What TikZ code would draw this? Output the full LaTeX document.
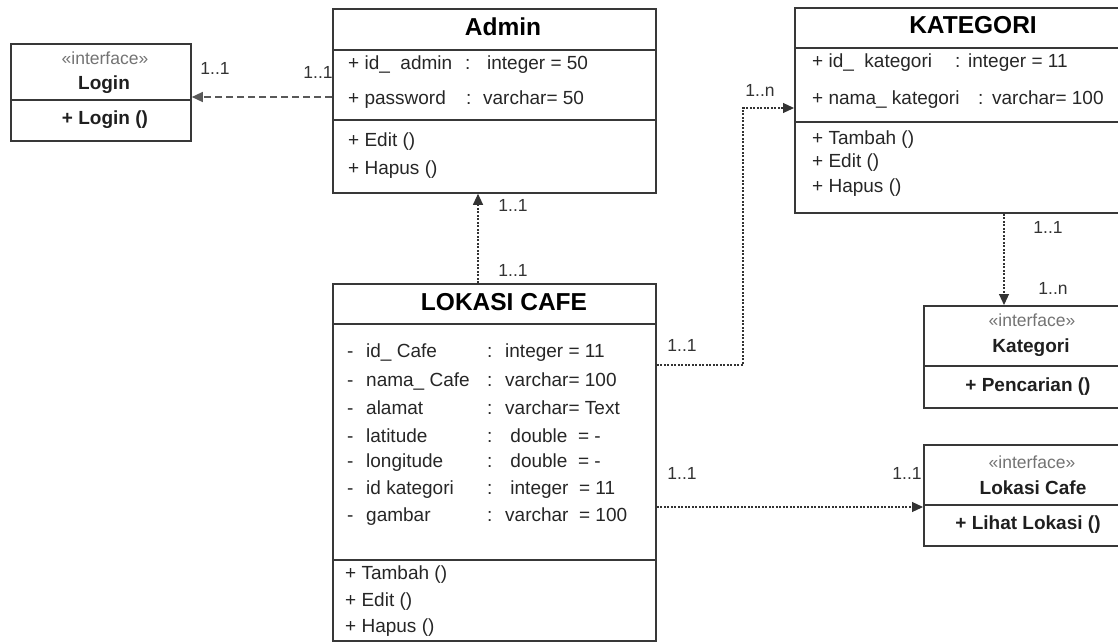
\documentclass[tikz,border=0pt]{standalone}
\usepackage{fontspec}
\setmainfont{Liberation Sans}
\usetikzlibrary{arrows.meta, positioning, calc}

\newcommand{\attrline}[4]{\makebox[#1][l]{#2}\makebox[#3][l]{:}#4}
\newcommand{\cafeattr}[2]{\attrline{140pt}{\makebox[19pt][l]{-}#1}{18pt}{#2}}

\begin{document}
\begin{tikzpicture}[x=1pt, y=-1pt,
  cls/.style={rectangle, draw=black!78, line width=1.8pt, anchor=north west, inner sep=0pt},
  sep/.style={draw=black!78, line width=1.8pt},
  title/.style={font=\fontsize{24.5}{26}\selectfont\bfseries, inner sep=0pt},
  attr/.style={anchor=west, font=\fontsize{19}{21}\selectfont, text=black!85, inner sep=0pt},
  stereo/.style={font=\fontsize{17.5}{19}\selectfont, text=black!55, inner sep=0pt},
  iname/.style={font=\fontsize{19}{21}\selectfont\bfseries, text=black!88, inner sep=0pt},
  mult/.style={font=\fontsize{17.5}{19}\selectfont, text=black!80, inner sep=0pt},
  dep/.style={-{Triangle[length=11pt, width=10pt]}, line width=1.1pt, black!80, dash pattern=on 2pt off 1.5pt},
  usage/.style={-{Triangle[length=11pt, width=10pt]}, line width=1.3pt, black!65, dash pattern=on 7pt off 4pt}
]
\useasboundingbox (0,0) rectangle (1118,643);
\clip (0,0) rectangle (1118,643);

\node (login) [cls, minimum width=180pt, minimum height=97pt] at (10,43) {};
\node (admin) [cls, minimum width=323pt, minimum height=184pt] at (332,8) {};
\node (kat) [cls, minimum width=360pt, minimum height=205pt] at (794,7) {};
\node (lokasi) [cls, minimum width=323pt, minimum height=357pt] at (332,283) {};
\node (ikat) [cls, minimum width=215pt, minimum height=102pt] at (923,305) {};
\node (ilok) [cls, minimum width=215pt, minimum height=101pt] at (923,444) {};

\draw [sep] ([yshift=-57pt]login.north west) -- ([yshift=-57pt]login.north east);
\draw [sep] ([yshift=-42pt]admin.north west) -- ([yshift=-42pt]admin.north east);
\draw [sep] ([yshift=-112pt]admin.north west) -- ([yshift=-112pt]admin.north east);
\draw [sep] ([yshift=-41pt]kat.north west) -- ([yshift=-41pt]kat.north east);
\draw [sep] ([yshift=-115pt]kat.north west) -- ([yshift=-115pt]kat.north east);
\draw [sep] ([yshift=-41pt]lokasi.north west) -- ([yshift=-41pt]lokasi.north east);
\draw [sep] ([yshift=-277pt]lokasi.north west) -- ([yshift=-277pt]lokasi.north east);
\draw [sep] ([yshift=-61pt]ikat.north west) -- ([yshift=-61pt]ikat.north east);
\draw [sep] ([yshift=-61pt]ilok.north west) -- ([yshift=-61pt]ilok.north east);

% Login
\node (loginst) [stereo] at (105,58) {«interface»};
\node (loginname) [iname] at (104,85) {Login};
\node (loginop) [iname] at (105,120) {+ Login ()};

% Admin
\node (admintitle) [title] at (503,27) {Admin};
\node (adminid) [attr] at (348,65) {\attrline{117pt}{+ id\_\ \ admin}{22pt}{integer = 50}};
\node (adminpw) [attr] at (348,100) {\attrline{118pt}{+ password}{17pt}{varchar= 50}};
\node (adminedit) [attr] at (348,142) {+ Edit ()};
\node (adminhapus) [attr] at (348,170) {+ Hapus ()};

% KATEGORI
\node (kattitle) [title] at (973,25) {KATEGORI};
\node (katid) [attr] at (812,63) {\attrline{143pt}{+ id\_\ \ kategori}{13pt}{integer = 11}};
\node (katnama) [attr] at (812,100) {\attrline{166pt}{+ nama\_ kategori}{14pt}{varchar= 100}};
\node (kattambah) [attr] at (812,140) {+ Tambah ()};
\node (katedit) [attr] at (812,163) {+ Edit ()};
\node (kathapus) [attr] at (812,188) {+ Hapus ()};

% LOKASI CAFE
\node (loktitle) [title] at (504,302) {LOKASI CAFE};
\node (lokid) [attr] at (347,353) {\cafeattr{id\_\ Cafe}{integer = 11}};
\node (loknama) [attr] at (347,381) {\cafeattr{nama\_\ Cafe}{varchar= 100}};
\node (lokalamat) [attr] at (347,408) {\cafeattr{alamat}{varchar= Text}};
\node (loklat) [attr] at (347,436) {\cafeattr{latitude}{\ double\ \ = -}};
\node (loklong) [attr] at (347,463) {\cafeattr{longitude}{\ double\ \ = -}};
\node (lokkat) [attr] at (347,490) {\cafeattr{id kategori}{\ integer\ \ = 11}};
\node (lokgambar) [attr] at (347,517) {\cafeattr{gambar}{varchar\ \ = 100}};
\node (loktambah) [attr] at (345,575) {+ Tambah ()};
\node (lokedit) [attr] at (345,602) {+ Edit ()};
\node (lokhapus) [attr] at (345,628) {+ Hapus ()};

% interfaces
\node (ikatst) [stereo] at (1032,320) {«interface»};
\node (ikatname) [iname] at (1031,348) {Kategori};
\node (ikatop) [iname] at (1028,387) {+ Pencarian ()};
\node (ilokst) [stereo] at (1032,462) {«interface»};
\node (ilokname) [iname] at (1033,488) {Lokasi Cafe};
\node (ilokop) [iname] at (1028,525) {+ Lihat Lokasi ()};

% connectors
\coordinate (bend) at (743,108);
\draw [usage] (admin.west |- 0,97) -- (login.east |- 0,97);
\draw [dep] (lokasi.north -| 478,0) -- (admin.south -| 478,0);
\draw [dep] (lokasi.east |- 0,365) -| (bend) -- (kat.west |- bend);
\draw [dep] (kat.south -| 1004,0) -- (ikat.north -| 1004,0);
\draw [dep] (lokasi.east |- 0,507) -- (ilok.west |- 0,507);

\node (mlogin) [mult] at (215,68) {1..1};
\node (madmin) [mult] at (318,72) {1..1};
\node (madminb) [mult] at (513,205) {1..1};
\node (mlokt) [mult] at (513,270) {1..1};
\node (mlokr) [mult] at (682,345) {1..1};
\node (mkatl) [mult] at (760,90) {1..n};
\node (mkatb) [mult] at (1048,227) {1..1};
\node (mikat) [mult] at (1053,288) {1..n};
\node (mlokb) [mult] at (682,473) {1..1};
\node (milok) [mult] at (907,473) {1..1};

\end{tikzpicture}
\end{document}
